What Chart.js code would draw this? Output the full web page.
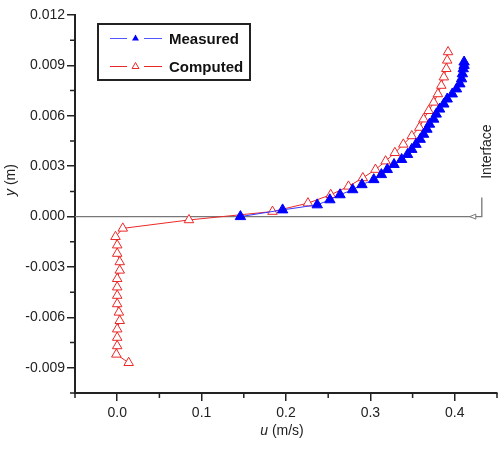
<!DOCTYPE html>
<html>
<head>
<meta charset="utf-8">
<style>
  html, body { margin: 0; padding: 0; background: #fff; }
  #wrap { width: 504px; height: 450px; }
</style>
</head>
<body>
<div id="wrap"><canvas id="chartId"></canvas></div>
<script src="https://cdn.jsdelivr.net/npm/chart.js"></script>
<script>
// measured profile (blue filled triangles), u in m/s, y in m
const measuredU = [0.146, 0.196, 0.237, 0.252, 0.264, 0.279, 0.290, 0.304, 0.313, 0.320, 0.328,
                   0.337, 0.344, 0.349, 0.354, 0.359, 0.363, 0.367, 0.370, 0.375, 0.378, 0.382,
                   0.387, 0.391, 0.397, 0.402, 0.406, 0.408, 0.409, 0.410, 0.411, 0.411];
const measuredY = [0.0000, 0.0004, 0.0007, 0.0010, 0.0013, 0.0016, 0.0019, 0.0022, 0.0025, 0.0028, 0.0031,
                   0.0034, 0.0037, 0.0040, 0.0043, 0.0046, 0.0049, 0.0052, 0.0055, 0.0058, 0.0061, 0.0064,
                   0.0067, 0.0070, 0.0073, 0.0076, 0.0079, 0.0082, 0.0085, 0.0088, 0.0090, 0.0092];

// computed profile (red open triangles)
const computedU = [0.0136, -0.001, 0.000, 0.000, 0.000, 0.003, 0.002, 0.000, 0.000, 0.000, 0.000,
                   0.003, 0.003, 0.000, 0.000, -0.002, 0.0066, 0.085, 0.184, 0.226, 0.253, 0.274,
                   0.291, 0.306, 0.318, 0.329, 0.339, 0.349, 0.358, 0.363, 0.369, 0.375, 0.380,
                   0.384, 0.387, 0.390, 0.391, 0.392];
const computedY = [-0.0087, -0.0082, -0.0077, -0.0072, -0.0067, -0.0062, -0.0057, -0.0052, -0.0047, -0.0042, -0.0037,
                   -0.0032, -0.0027, -0.0022, -0.0017, -0.0012, -0.0007, -0.0002, 0.0003, 0.0008, 0.0013, 0.0018,
                   0.0023, 0.0028, 0.0033, 0.0038, 0.0043, 0.0048, 0.0053, 0.0058, 0.0063, 0.0068, 0.0073,
                   0.0078, 0.0083, 0.0088, 0.0093, 0.0098];

// ticks
const xTicks = [0.0, 0.1, 0.2, 0.3, 0.4];
const xMinor = [-0.05, 0.05, 0.15, 0.25, 0.35, 0.45];
const yTicks = [-0.009, -0.006, -0.003, 0.000, 0.003, 0.006, 0.009, 0.012];
const yMinor = [-0.0105, -0.0075, -0.0045, -0.0015, 0.0015, 0.0045, 0.0075, 0.0105];

const seriesNames = ['Measured', 'Computed'];
const interfaceLabel = 'Interface';
const interfaceY = 0.0;
const interfaceX = 0.432;

const FONT = "'Liberation Sans', Arial, sans-serif";
const BLUE = '#0000ff';
const RED = 'rgb(235,40,40)';
Chart.defaults.font.family = FONT;

function toPoints(us, ys) {
  return us.map((u, i) => ({ x: u, y: ys[i] }));
}

function triangle(ctx, x, y, r) {
  ctx.beginPath();
  ctx.moveTo(x, y - r);
  ctx.lineTo(x - r * 0.866, y + r / 2);
  ctx.lineTo(x + r * 0.866, y + r / 2);
  ctx.closePath();
}

// interface line, minor ticks, legend box, axis titles
const extras = {
  id: 'extras',
  beforeDatasetsDraw(chart) {
    const { ctx, chartArea, scales: { x, y } } = chart;
    const py = y.getPixelForValue(interfaceY);
    const px = x.getPixelForValue(interfaceX);
    ctx.save();
    ctx.strokeStyle = '#777';
    ctx.lineWidth = 1.3;
    ctx.beginPath();
    ctx.moveTo(chartArea.left, py);
    ctx.lineTo(px, py);
    ctx.lineTo(px, py - 19);
    ctx.stroke();
    // small open arrow head pointing left
    ctx.lineWidth = 1;
    ctx.beginPath();
    ctx.moveTo(px - 12, py);
    ctx.lineTo(px - 6, py - 2.5);
    ctx.lineTo(px - 6, py + 2.5);
    ctx.closePath();
    ctx.fillStyle = '#fff';
    ctx.fill();
    ctx.stroke();
    // label
    ctx.translate(px + 5, py - 65);
    ctx.rotate(-Math.PI / 2);
    ctx.fillStyle = '#222';
    ctx.font = '14px ' + FONT;
    ctx.textAlign = 'center';
    ctx.textBaseline = 'middle';
    ctx.fillText(interfaceLabel, 0, 0);
    ctx.restore();
  },
  afterDraw(chart) {
    const { ctx, chartArea, scales: { x, y } } = chart;
    ctx.save();
    ctx.strokeStyle = '#222';
    ctx.lineWidth = 1.5;
    ctx.beginPath();
    xMinor.forEach(v => {
      const p = x.getPixelForValue(v);
      ctx.moveTo(p, chartArea.bottom);
      ctx.lineTo(p, chartArea.bottom + 5);
    });
    yMinor.forEach(v => {
      const p = y.getPixelForValue(v);
      ctx.moveTo(chartArea.left, p);
      ctx.lineTo(chartArea.left - 5, p);
    });
    ctx.stroke();

    // legend
    ctx.lineWidth = 2;
    ctx.strokeStyle = '#222';
    ctx.strokeRect(98, 24, 152, 56);
    const rows = [
      { name: seriesNames[0], color: '#5555ff', fill: BLUE, y: 38.5 },
      { name: seriesNames[1], color: RED, fill: '#fff', y: 66.5 }
    ];
    rows.forEach(r => {
      ctx.strokeStyle = r.color;
      ctx.lineWidth = 1;
      ctx.beginPath();
      ctx.moveTo(110, r.y); ctx.lineTo(127, r.y);
      ctx.moveTo(144, r.y); ctx.lineTo(162, r.y);
      ctx.stroke();
      triangle(ctx, 135.5, r.y, 4);
      ctx.fillStyle = r.fill;
      ctx.fill();
      if (r.fill === '#fff') { ctx.strokeStyle = RED; ctx.stroke(); }
      ctx.fillStyle = '#111';
      ctx.font = 'bold 15px ' + FONT;
      ctx.textAlign = 'left';
      ctx.textBaseline = 'middle';
      ctx.fillText(r.name, 169, r.y + 1);
    });

    // axis titles with italic symbols
    ctx.fillStyle = '#222';
    ctx.textBaseline = 'middle';
    ctx.textAlign = 'left';
    const it = 'italic 14px ' + FONT, nm = '14px ' + FONT;
    ctx.font = it; const wu = ctx.measureText('u').width;
    ctx.font = nm; const wr = ctx.measureText(' (m/s)').width;
    let sx = 282 - (wu + wr) / 2;
    ctx.font = it; ctx.fillText('u', sx, 431);
    ctx.font = nm; ctx.fillText(' (m/s)', sx + wu, 431);

    ctx.translate(11, 180);
    ctx.rotate(-Math.PI / 2);
    ctx.font = it; const wy = ctx.measureText('y').width;
    ctx.font = nm; const wm = ctx.measureText(' (m)').width;
    sx = -(wy + wm) / 2;
    ctx.font = it; ctx.fillText('y', sx, 0);
    ctx.font = nm; ctx.fillText(' (m)', sx + wy, 0);
    ctx.restore();
  }
};

new Chart(document.getElementById('chartId'), {
  type: 'scatter',
  data: {
    datasets: [{
      label: seriesNames[0],
      data: toPoints(measuredU, measuredY),
      showLine: true,
      borderColor: '#3a3aff',
      borderWidth: 1,
      pointStyle: 'triangle',
      pointRadius: 6,
      pointBackgroundColor: BLUE,
      pointBorderColor: BLUE,
      pointBorderWidth: 1
    }, {
      label: seriesNames[1],
      data: toPoints(computedU, computedY),
      showLine: true,
      borderColor: RED,
      borderWidth: 1,
      pointStyle: 'triangle',
      pointRadius: 5.5,
      pointBackgroundColor: '#fff',
      pointBorderColor: RED,
      pointBorderWidth: 1
    }]
  },
  options: {
    responsive: true,
    maintainAspectRatio: false,
    animation: false,
    events: [],
    layout: { padding: { left: 0, right: 4, top: 15, bottom: 0 } },
    plugins: { legend: { display: false }, tooltip: { enabled: false } },
    scales: {
      x: {
        type: 'linear',
        min: -0.05,
        max: 0.45,
        afterBuildTicks: s => { s.ticks = xTicks.map(v => ({ value: v })); },
        afterFit: s => { s.height = 57; },
        ticks: { callback: v => v.toFixed(1), font: { size: 14 }, color: '#222', padding: 4, maxRotation: 0, autoSkip: false },
        grid: { drawOnChartArea: false, tickLength: 8, color: '#222', lineWidth: 1.5 },
        border: { color: '#222', width: 2 }
      },
      y: {
        type: 'linear',
        min: -0.0105,
        max: 0.012,
        afterBuildTicks: s => { s.ticks = yTicks.map(v => ({ value: v })); },
        afterFit: s => { s.width = 75; },
        ticks: { callback: v => v.toFixed(3), font: { size: 14 }, color: '#222', padding: 2, autoSkip: false },
        grid: { drawOnChartArea: false, tickLength: 8, color: '#222', lineWidth: 1.5 },
        border: { color: '#222', width: 2 }
      }
    }
  },
  plugins: [extras]
});
</script>
</body>
</html>
